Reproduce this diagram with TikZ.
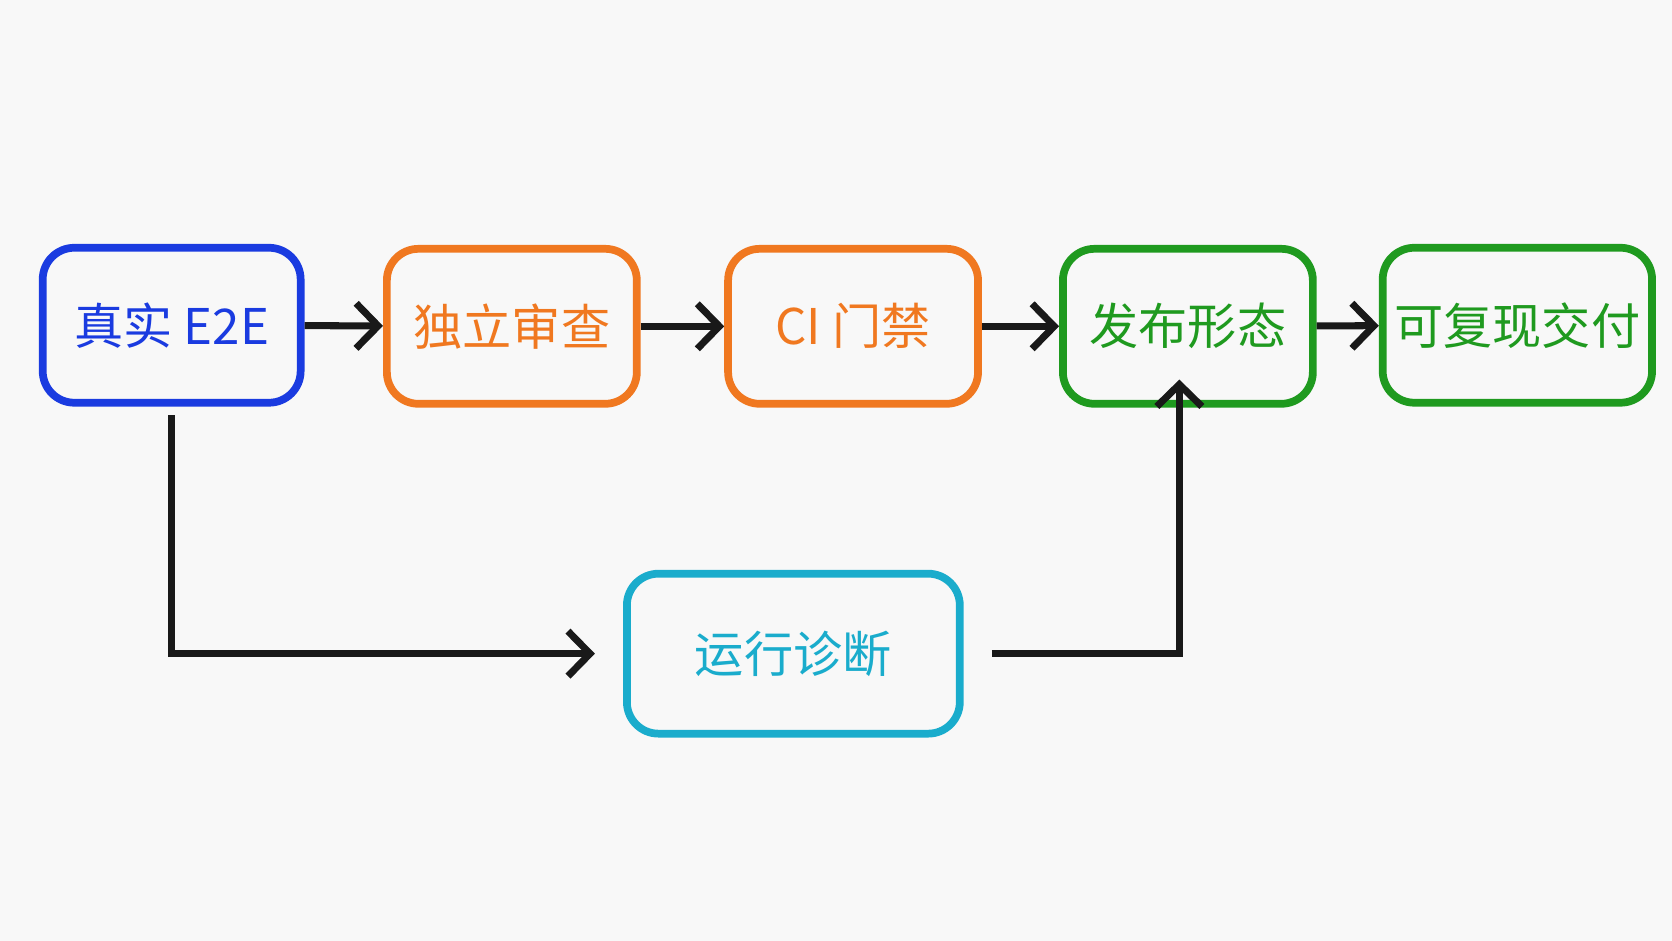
\documentclass[tikz,border=0pt]{standalone}
\usepackage{fontspec}
\setmainfont{Noto Sans CJK SC}
\usetikzlibrary{arrows.meta, positioning}
\definecolor{cblue}{HTML}{1A3BE0}
\definecolor{corange}{HTML}{F07820}
\definecolor{cgreen}{HTML}{1F9A1F}
\definecolor{ccyan}{HTML}{1AACCC}
\definecolor{bg}{HTML}{F8F8F8}
\tikzset{
  box/.style={draw, line width=2.2pt, rounded corners=9pt, minimum width=2.5cm,
    minimum height=1.55cm, font=\fontsize{14pt}{16pt}\selectfont, text=#1, draw=#1},
  link/.style={-{Straight Barb[length=2.2mm, width=4.5mm]}, line width=2pt, black!90}
}
\begin{document}
\begin{tikzpicture}[x=0.01066cm, y=-0.01066cm]
\fill[bg] (0,0) rectangle (1568,882);
\useasboundingbox (0,0) rectangle (1568,882);
% top row
\node[box=cblue, minimum width=2.58cm] (e2e) at (161,305) {真实 E2E};
\node[box=corange] (review) at (480,306) {独立审查};
\node[box=corange] (ci) at (800,306) {CI 门禁};
\node[box=cgreen] (release) at (1114,306) {发布形态};
\node[box=cgreen] (deliver) at (1423,305) {可复现交付};
% bottom
\node[box=ccyan, minimum width=3.33cm, minimum height=1.6cm] (diag) at (744,613) {运行诊断};
\draw[link] (e2e) -- (review);
\draw[link] (review) -- (ci);
\draw[link] (ci) -- (release);
\draw[link] (release) -- (deliver);
\draw[link] (e2e.south) ++(0,8) |- ([xshift=-8]diag.west);
\draw[link] ([xshift=8]diag.east) -| ([yshift=8]release.south -| 1106,0);
\end{tikzpicture}
\end{document}
